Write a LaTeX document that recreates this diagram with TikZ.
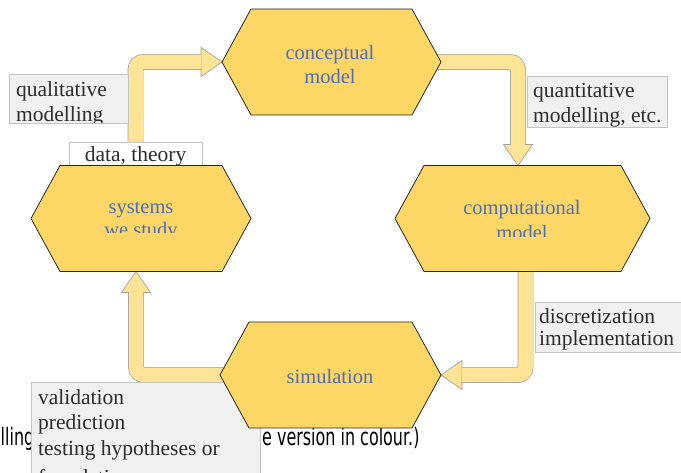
\documentclass[tikz,border=0pt]{standalone}
\usepackage{fontspec}
\setmainfont{Liberation Serif}
\newfontfamily\capfont[FakeStretch=0.665]{DejaVu Sans}
\usetikzlibrary{calc}
\definecolor{hexfill}{RGB}{253,215,102}
\definecolor{hexblue}{RGB}{78,108,186}
\definecolor{arrfill}{RGB}{255,228,150}
\definecolor{arrline}{RGB}{160,160,160}
\definecolor{boxfill}{RGB}{240,240,240}
\definecolor{boxline}{RGB}{195,195,195}
\definecolor{labtext}{RGB}{45,45,45}
\begin{document}
\begin{tikzpicture}[x=1pt,y=-1pt,
  hexbase/.style={minimum height=106pt, inner sep=0pt, outer sep=0pt},
  hexpath/.style={fill=hexfill, draw=black!85, line width=0.8pt, line join=miter},
  hextext/.style={text=hexblue, font=\fontsize{20.5}{23}\selectfont, inner sep=0pt, anchor=base},
  shaft/.style={draw=arrline, line width=0.7pt, double=arrfill, double distance=14.5pt, rounded corners=8pt},
  headtri/.style={fill=arrfill, draw=arrline, line width=0.7pt, line join=miter},
  labbox/.style={fill=boxfill, draw=boxline, line width=0.8pt, inner sep=0pt, outer sep=0pt, anchor=north west},
  labtxt/.style={text=labtext, font=\fontsize{21.5}{24.5}\selectfont, inner sep=0pt, anchor=base west},
  captxt/.style={text=black, font=\capfont\fontsize{24}{28}\selectfont, inner sep=0pt, anchor=base west},
]
\useasboundingbox (0,0) rectangle (681,473);
\fill[white] (0,0) rectangle (681,473);
\clip (0,0) rectangle (681,473);

% caption fragments behind everything
\node[captxt] (cap1) at (0.5,446) {lling};
\node[captxt] (cap2) at (262,446) {e version in colour.)};

% invisible hexagon frames (named)
\node[hexbase, minimum width=219pt] (concept) at (331.5,62) {};
\node[hexbase, minimum width=255pt] (comp) at (522.5,218.5) {};
\node[hexbase, minimum width=220pt] (systems) at (141,218.5) {};
\node[hexbase, minimum width=221pt] (sim) at (330.5,375) {};

% data box frame (named, drawn later)
\node[labbox, fill=none, draw=none, minimum width=133pt, minimum height=32pt] (data) at (69,142) {};

% arrows: heads then shafts
\draw[headtri] (concept.west) -- ++(-21,-14.5) -- ++(0,29) -- cycle;
\draw[shaft] (data.center) |- ([xshift=-20.5pt]concept.west);

\draw[headtri] ([xshift=-4.5pt]comp.north) -- ++(-14.5,-21) -- ++(29,0) -- cycle;
\draw[shaft] (concept.center) -| ([xshift=-4.5pt,yshift=20.5pt]comp.north);

\draw[headtri] (sim.east) -- ++(21,-14.5) -- ++(0,29) -- cycle;
\draw[shaft] ([xshift=3pt]comp.center) |- ([xshift=20.5pt]sim.east);

\draw[headtri] ([xshift=-5pt]systems.south) -- ++(-14.5,21) -- ++(29,0) -- cycle;
\draw[shaft] (sim.center) -| ([xshift=-5pt,yshift=-20.5pt]systems.south);

% label boxes
\node[labbox, minimum width=119pt, minimum height=49pt] (qual) at (9,74) {};
\begin{scope}
  \clip (qual.north west) rectangle (qual.south east);
  \node[labtxt] (qual1) at (16,97) {qualitative};
  \node[labtxt] (qual2) at (16,122) {modelling};
\end{scope}

\node[labbox, minimum width=140pt, minimum height=51pt] (quant) at (527,76) {};
\begin{scope}
  \clip (quant.north west) rectangle (quant.south east);
  \node[labtxt] (quant1) at (533,98) {quantitative};
  \node[labtxt] (quant2) at (533,123) {modelling, etc.};
\end{scope}

\node[labbox, minimum width=155pt, minimum height=50pt] (disc) at (535,302) {};
\begin{scope}
  \clip (disc.north west) rectangle (disc.south east);
  \node[labtxt] (disc1) at (539,324) {discretization};
  \node[labtxt] (disc2) at (539,346) {implementation};
\end{scope}

\node[labbox, minimum width=229pt, minimum height=110pt] (valid) at (31,382) {};
\begin{scope}
  \clip (valid.north west) rectangle (valid.south east);
  \node[labtxt] (val1) at (38,405) {validation};
  \node[labtxt] (val2) at (38,430) {prediction};
  \node[labtxt] (val3) at (38,455) {testing hypotheses or};
  \node[labtxt] (val4) at (38,484) {foundations};
\end{scope}

\draw[fill=white, draw=boxline, line width=0.8pt] (data.north west) rectangle (data.south east);
\node[labtxt, anchor=base] (datatext) at (135.5,162) {data, theory};

% hexagons
\foreach \h in {concept,comp,systems,sim}{
  \draw[hexpath] (\h.west) -- ([xshift=29pt]\h.north west) -- ([xshift=-29pt]\h.north east)
    -- (\h.east) -- ([xshift=-29pt]\h.south east) -- ([xshift=29pt]\h.south west) -- cycle;
}

% hexagon texts (clipped as in the original)
\begin{scope}
  \clip (222,20) rectangle (441,83);
  \node[hextext] (concept1) at (330,60) {conceptual};
  \node[hextext] (concept2) at (330,84) {model};
\end{scope}
\begin{scope}
  \clip (395,180) rectangle (650,237);
  \node[hextext] (comp1) at (522,215) {computational};
  \node[hextext] (comp2) at (522,240) {model};
\end{scope}
\begin{scope}
  \clip (31,180) rectangle (251,233);
  \node[hextext] (sys1) at (141,214) {systems};
  \node[hextext] (sys2) at (141,237) {we study};
\end{scope}
\node[hextext] (sim1) at (330,384) {simulation};

\end{tikzpicture}
\end{document}
